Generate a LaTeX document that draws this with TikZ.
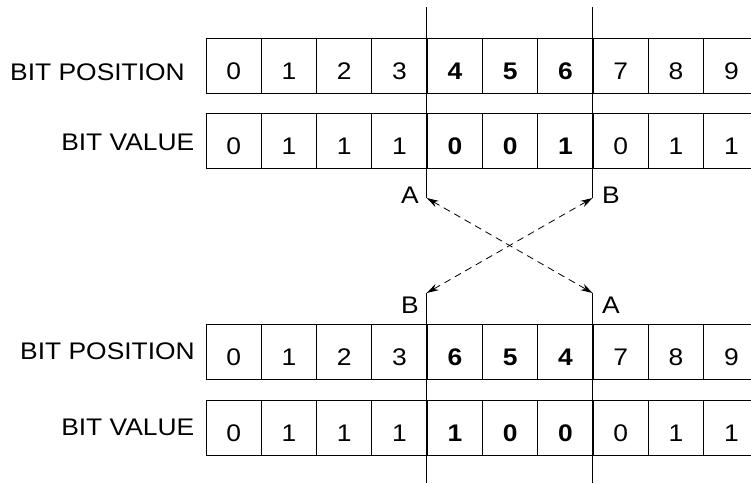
\documentclass[tikz,border=0pt]{standalone}
\usepackage{fontspec}
\setmainfont{Liberation Sans}[FakeStretch=1.1]
\usetikzlibrary{arrows.meta}

\begin{document}
\begin{tikzpicture}[x=1pt,y=-1pt,
  txt/.style={font=\fontsize{24}{26}\selectfont},
  cell/.style={txt, draw, line width=1pt, minimum width=55.3pt, minimum height=55pt,
    inner sep=0pt, text height=27pt, text depth=0pt, anchor=north west},
  rowlabel/.style={txt, anchor=base east, inner sep=0pt},
  letter/.style={txt, anchor=base, inner sep=0pt},
  cutline/.style={line width=1.2pt},
  swapline/.style={line width=0.8pt, dash pattern=on 7pt off 5pt,
    {Stealth[length=12pt,width=7pt]}-{Stealth[length=12pt,width=7pt]}}]

\useasboundingbox (0,0) rectangle (751,483);
\clip (0,0) rectangle (751,483);
\fill[white] (0,0) rectangle (751,483);

% original bit string
\node[rowlabel] (tposl) at (185,80) {BIT POSITION};
\node[rowlabel] (tvall) at (194.5,150) {BIT VALUE};
\foreach \v [count=\i from 0] in {0,1,2,3,\textbf{4},\textbf{5},\textbf{6},7,8,9}
  \node[cell] (tp\i) at ({205.5+55.3*\i},38) {\v};
\foreach \v [count=\i from 0] in {0,1,1,1,\textbf{0},\textbf{0},\textbf{1},0,1,1}
  \node[cell] (tv\i) at ({205.5+55.3*\i},113) {\v};

% bit string after the inversion of positions 4..6
\node[rowlabel] (bposl) at (195,359) {BIT POSITION};
\node[rowlabel] (bvall) at (194.5,435) {BIT VALUE};
\foreach \v [count=\i from 0] in {0,1,2,3,\textbf{6},\textbf{5},\textbf{4},7,8,9}
  \node[cell] (bp\i) at ({205.5+55.3*\i},324) {\v};
\foreach \v [count=\i from 0] in {0,1,1,1,\textbf{1},\textbf{0},\textbf{0},0,1,1}
  \node[cell] (bv\i) at ({205.5+55.3*\i},400) {\v};

% cut points
\coordinate (atop) at (426.7,7);
\coordinate (aend) at (426.7,198);
\coordinate (btop) at (592.6,7);
\coordinate (bend) at (592.6,198);
\coordinate (bstart) at (426.7,293);
\coordinate (bbot) at (426.7,483);
\coordinate (astart) at (592.6,293);
\coordinate (abot) at (592.6,483);

\draw[cutline] (atop) -- (aend);
\draw[cutline] (btop) -- (bend);
\draw[cutline] (bstart) -- (bbot);
\draw[cutline] (astart) -- (abot);

\draw[swapline] (aend) -- (astart);
\draw[swapline] (bend) -- (bstart);

\node[letter] (la1) at (410,203) {A};
\node[letter] (lb1) at (611,203) {B};
\node[letter] (lb2) at (410,313) {B};
\node[letter] (la2) at (611,313) {A};
\end{tikzpicture}
\end{document}
